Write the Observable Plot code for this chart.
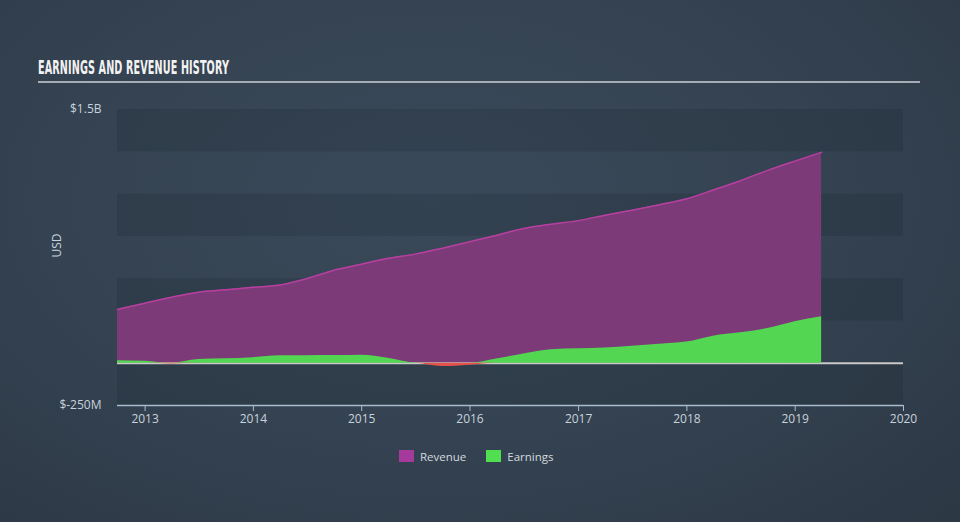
<!DOCTYPE html>
<html>
<head>
<meta charset="utf-8">
<script src="https://cdn.jsdelivr.net/npm/d3@7"></script>
<script src="https://cdn.jsdelivr.net/npm/@observablehq/plot@0.6"></script>
<style>
  html, body { margin: 0; padding: 0; }
  body {
    width: 960px; height: 522px; overflow: hidden; position: relative;
    background: radial-gradient(ellipse 75% 85% at 45% 38%, #3a4959 0%, #344251 55%, #2d3845 100%);
    font-family: "Open Sans", sans-serif;
  }
  #title {
    position: absolute; left: 38px; top: 55px;
    font-family: "Liberation Sans Narrow", "DejaVu Sans Condensed", sans-serif;
    font-weight: bold; font-size: 19px; color: #f2f2f2; letter-spacing: 0.2px;
    white-space: nowrap; transform-origin: left top; line-height: 24px;
  }
  #rule { position: absolute; left: 38px; top: 81px; width: 882px; height: 2px; background: #a6acb4; }
  #chart { position: absolute; left: 0; top: 0; }
  #legend {
    position: absolute; left: 399px; top: 447px; display: flex; align-items: center;
    font-size: 11.5px; color: #d3d9df; height: 18px;
  }
  .sw { width: 15px; height: 12px; margin-right: 6px; }
  .item { display: flex; align-items: center; margin-right: 20px; }
</style>
</head>
<body>
<div id="title">EARNINGS AND REVENUE HISTORY</div>
<div id="rule"></div>
<div id="chart"></div>
<div id="legend"></div>
<script>
// Quarterly data (USD billions)
const dates = [
  "2012-09-30","2012-12-31","2013-03-31","2013-06-30","2013-09-30","2013-12-31",
  "2014-03-31","2014-06-30","2014-09-30","2014-12-31","2015-03-31","2015-06-30",
  "2015-09-30","2015-12-31","2016-03-31","2016-06-30","2016-09-30","2016-12-31",
  "2017-03-31","2017-06-30","2017-09-30","2017-12-31","2018-03-31","2018-06-30",
  "2018-09-30","2018-12-31","2019-03-31"
];
const revenue = [
  0.318, 0.355, 0.390, 0.420, 0.434, 0.449,
  0.462, 0.500, 0.550, 0.585, 0.620, 0.645,
  0.680, 0.718, 0.757, 0.797, 0.822, 0.843,
  0.875, 0.905, 0.937, 0.972, 1.024, 1.079,
  1.140, 1.195, 1.247
];
const earnings = [
  0.015, 0.012, -0.004, 0.022, 0.026, 0.033,
  0.044, 0.044, 0.045, 0.047, 0.030, 0.002,
  -0.020, -0.012, 0.025, 0.055, 0.080, 0.085,
  0.090, 0.100, 0.112, 0.125, 0.160, 0.180,
  0.205, 0.245, 0.274
];
const yearTicks = ["2013","2014","2015","2016","2017","2018","2019","2020"];
const yTickValues = [-0.25, 1.5];
const yTickLabels = ["$-250M", "$1.5B"];
const seriesNames = ["Revenue", "Earnings"];
const seriesColors = ["#a43a9c", "#4fdf50"];

const data = dates.map((d, i) => ({date: new Date(d), revenue: revenue[i], earnings: earnings[i]}));
const bandStarts = d3.range(-0.25, 1.5, 0.5);
const curve = "monotone-x";

const chart = Plot.plot({
  width: 960, height: 522,
  marginLeft: 117, marginRight: 57, marginTop: 109, marginBottom: 117,
  style: {background: "transparent", fontFamily: "Open Sans, sans-serif", fontSize: "12px", color: "#c8d2dc"},
  x: {type: "utc", domain: [new Date("2012-09-30"), new Date("2020-01-01")]},
  y: {domain: [-0.25, 1.5]},
  marks: [
    Plot.rectY(bandStarts, {y1: d => d, y2: d => d + 0.25, fill: "#141d27", fillOpacity: 0.16}),
    Plot.areaY(data, {x: "date", y: "revenue", fill: "#7c3a78", curve}),
    Plot.lineY(data, {x: "date", y: "revenue", stroke: "#b6409f", strokeWidth: 1.5, curve}),
    Plot.ruleY([0], {stroke: "#c9c9c9", strokeWidth: 2}),
    Plot.areaY(data, {x: "date", y: d => Math.max(0, d.earnings), fill: "#53d651", curve}),
    Plot.areaY(data, {x: "date", y: d => Math.min(0, d.earnings), fill: "#e4534b", curve}),
    Plot.ruleY([-0.25], {stroke: "#a9bccd", strokeWidth: 1.5}),
    Plot.axisX({ticks: yearTicks.map(y => new Date(y + "-01-01")), tickFormat: d3.utcFormat("%Y"),
      tickSize: 6, tickPadding: 3, stroke: "#a9bccd", fill: "#c8d2dc", label: null}),
    Plot.axisY({ticks: yTickValues, tickFormat: d => yTickLabels[yTickValues.indexOf(d)],
      tickSize: 0, tickPadding: 16, fill: "#c8d2dc", label: null}),
    Plot.text(["USD"], {frameAnchor: "left", rotate: -90, dx: -60, fill: "#c8d2dc", fontSize: 12})
  ]
});
document.getElementById("chart").appendChild(chart);

// legend
const legend = document.getElementById("legend");
seriesNames.forEach((n, i) => {
  const it = document.createElement("div"); it.className = "item";
  const sw = document.createElement("div"); sw.className = "sw"; sw.style.background = seriesColors[i];
  const tx = document.createElement("span"); tx.textContent = n;
  it.appendChild(sw); it.appendChild(tx); legend.appendChild(it);
});

// fit title width to reference
const t = document.getElementById("title");
const w = t.getBoundingClientRect().width;
t.style.transform = `scaleX(${191 / w})`;
</script>
</body>
</html>
